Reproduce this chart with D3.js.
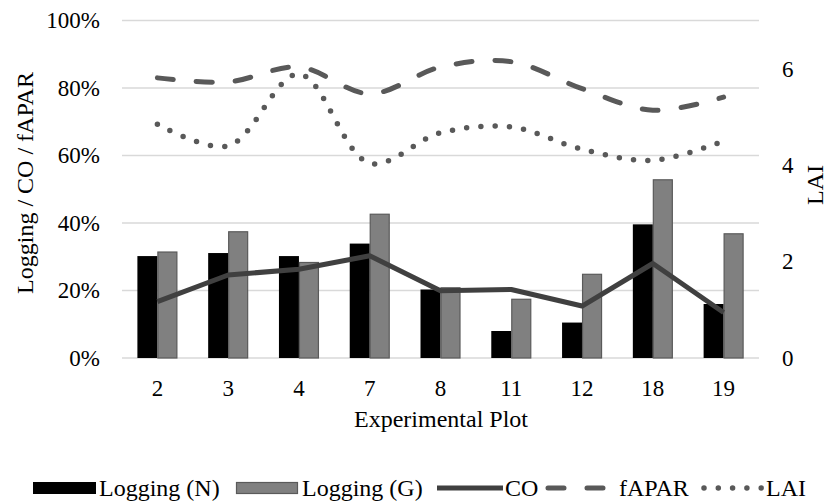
<!DOCTYPE html>
<html>
<head>
<meta charset="utf-8">
<script src="https://cdn.jsdelivr.net/npm/d3@7"></script>
<style>
  body { margin: 0; background: #fff; }
</style>
</head>
<body>
<svg id="chart" width="827" height="502"></svg>
<script>
// data
var plots = ["2", "3", "4", "7", "8", "11", "12", "18", "19"]
var loggingN = [0.302, 0.311, 0.302, 0.339, 0.203, 0.080, 0.105, 0.396, 0.160]
var loggingG = [0.314, 0.374, 0.283, 0.426, 0.208, 0.174, 0.248, 0.528, 0.368]
var co = [0.167, 0.246, 0.263, 0.303, 0.199, 0.203, 0.154, 0.280, 0.135]
var fapar = [0.830, 0.818, 0.862, 0.783, 0.862, 0.878, 0.798, 0.734, 0.773]
var lai = [4.85, 4.40, 5.89, 4.04, 4.67, 4.79, 4.33, 4.10, 4.50]
var leftTicks = [0, 0.2, 0.4, 0.6, 0.8, 1.0]
var rightTicks = [0, 2, 4, 6]

var serif = "'Liberation Serif', 'DejaVu Serif', serif"
var svg = d3.select("#chart")
var plotLeft = 122, plotRight = 759, plotTop = 20.5, plotBottom = 358

var x0 = d3.scaleBand().domain(plots).range([plotLeft, plotRight]).paddingInner(0.435).paddingOuter(0.2175)
var x1 = d3.scaleBand().domain(["N", "G"]).range([0, x0.bandwidth()])
var y = d3.scaleLinear().domain([0, 1]).range([plotBottom, plotTop])
var y2 = d3.scaleLinear().domain([0, 7]).range([plotBottom, plotTop])
var cx = function(d, i) { return x0(plots[i]) + x0.bandwidth() / 2 }

// gridlines
svg.append("g").selectAll("line").data(leftTicks).join("line")
    .attr("x1", plotLeft).attr("x2", plotRight)
    .attr("y1", d => y(d)).attr("y2", d => y(d))
    .attr("stroke", "#d9d9d9").attr("stroke-width", 1.5)

// left axis
var yAxis = d3.axisLeft(y).tickValues(leftTicks).tickFormat(d3.format(".0%")).tickSize(0).tickPadding(0)
var gl = svg.append("g").attr("transform", "translate(100,0)").call(yAxis)
gl.select(".domain").remove()

// right axis
var y2Axis = d3.axisRight(y2).tickValues(rightTicks).tickFormat(d3.format("d")).tickSize(0).tickPadding(0)
var gr = svg.append("g").attr("transform", "translate(782,0)").call(y2Axis)
gr.select(".domain").remove()

// x axis
var xAxis = d3.axisBottom(x0).tickSize(0).tickPadding(22)
var gx = svg.append("g").attr("transform", "translate(0," + plotBottom + ")").call(xAxis)
gx.select(".domain").remove()

svg.selectAll(".tick text").attr("font-size", 23).attr("fill", "#000")
svg.selectAll("g").attr("font-family", null)

// bars
var groups = svg.append("g").selectAll("g").data(plots).join("g")
    .attr("transform", d => "translate(" + x0(d) + ",0)")
groups.append("rect")
    .attr("x", x1("N")).attr("width", x1.bandwidth())
    .attr("y", (d, i) => y(loggingN[i])).attr("height", (d, i) => y(0) - y(loggingN[i]))
    .attr("fill", "#000")
groups.append("rect")
    .attr("x", x1("G") + 0.5).attr("width", x1.bandwidth() - 1)
    .attr("y", (d, i) => y(loggingG[i])).attr("height", (d, i) => y(0) - y(loggingG[i]))
    .attr("fill", "#808080").attr("stroke", "#5a5a5a").attr("stroke-width", 1.2)

// lines
var coLine = d3.line().x(cx).y(d => y(d))
svg.append("path").datum(co).attr("d", coLine)
    .attr("fill", "none").attr("stroke", "#404040").attr("stroke-width", 5).attr("stroke-linejoin", "round")

var faparLine = d3.line().x(cx).y(d => y(d)).curve(d3.curveCatmullRom.alpha(0.5))
svg.append("path").datum(fapar).attr("d", faparLine)
    .attr("fill", "none").attr("stroke", "#595959").attr("stroke-width", 5)
    .attr("stroke-dasharray", "16,23").attr("stroke-linecap", "round")

var laiLine = d3.line().x(cx).y(d => y2(d)).curve(d3.curveCatmullRom.alpha(0.5))
svg.append("path").datum(lai).attr("d", laiLine)
    .attr("fill", "none").attr("stroke", "#595959").attr("stroke-width", 5.5)
    .attr("stroke-dasharray", "0,14.3").attr("stroke-linecap", "round")

// axis titles
svg.append("text").attr("transform", "translate(33,183) rotate(-90)")
    .attr("text-anchor", "middle").attr("font-size", 24).text("Logging / CO / fAPAR")
svg.append("text").attr("transform", "translate(823,185) rotate(-90)")
    .attr("text-anchor", "middle").attr("font-size", 24).text("LAI")
svg.append("text").attr("x", 441).attr("y", 427)
    .attr("text-anchor", "middle").attr("font-size", 24).text("Experimental Plot")

// legend
var lg = svg.append("g").attr("font-size", 24)
var ly = 488
lg.append("rect").attr("x", 33).attr("y", ly - 6).attr("width", 63).attr("height", 12).attr("fill", "#000")
lg.append("text").attr("x", 99).attr("y", ly + 8).text("Logging (N)")
lg.append("rect").attr("x", 236.5).attr("y", ly - 5.5).attr("width", 61).attr("height", 11)
    .attr("fill", "#808080").attr("stroke", "#5a5a5a").attr("stroke-width", 1.2)
lg.append("text").attr("x", 302).attr("y", ly + 8).text("Logging (G)")
lg.append("line").attr("x1", 437).attr("x2", 503).attr("y1", ly).attr("y2", ly)
    .attr("stroke", "#404040").attr("stroke-width", 5)
lg.append("text").attr("x", 505).attr("y", ly + 8).text("CO")
lg.append("line").attr("x1", 548).attr("x2", 608).attr("y1", ly).attr("y2", ly)
    .attr("stroke", "#595959").attr("stroke-width", 5).attr("stroke-linecap", "round")
    .attr("stroke-dasharray", "16,23")
lg.append("text").attr("x", 619).attr("y", ly + 8).text("fAPAR")
lg.append("line").attr("x1", 704).attr("x2", 762).attr("y1", ly).attr("y2", ly)
    .attr("stroke", "#595959").attr("stroke-width", 5.5).attr("stroke-linecap", "round")
    .attr("stroke-dasharray", "0,14.3")
lg.append("text").attr("x", 766).attr("y", ly + 8).text("LAI")

svg.selectAll("text").attr("font-family", serif)
</script>
</body>
</html>
